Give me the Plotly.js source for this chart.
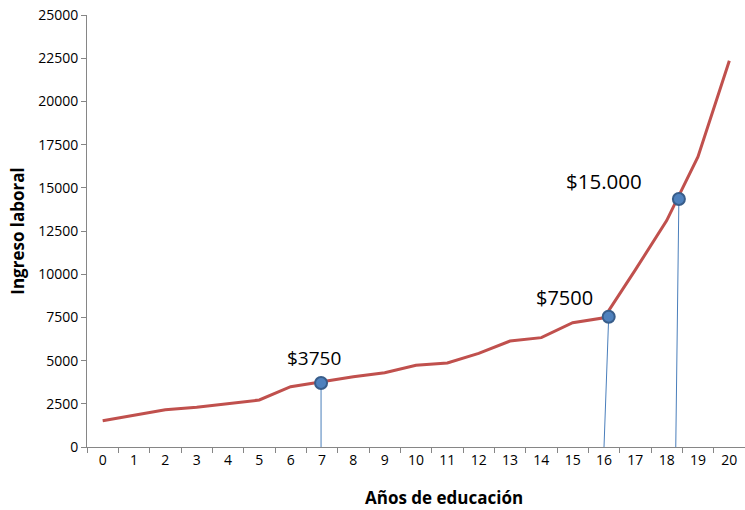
<!DOCTYPE html>
<html>
<head>
<meta charset="utf-8">
<script src="https://cdn.plot.ly/plotly-3.0.1.min.js"></script>
<style>html,body{margin:0;padding:0;background:#fff}#chart{width:745px;height:510px}</style>
</head>
<body>
<div id="chart"></div>
<script>
// Data
const years = [0,1,2,3,4,5,6,7,8,9,10,11,12,13,14,15,16,17,18,19,20];
const yearLabels = ['0','1','2','3','4','5','6','7','8','9','10','11','12','13','14','15','16','17','18','19','20'];
const income = [1520,1850,2150,2300,2530,2720,3490,3780,4070,4300,4730,4860,5420,6130,6330,7190,7480,10250,13100,16800,22350];

// Highlighted points with their drop lines
const highlightX = [6.97, 16.15, 18.39];
const highlightY = [3700, 7540, 14350];
const highlightBaseX = [6.97, 16.0, 18.29];
const highlightLabels = ['$3750', '$7500', '$15.000'];
const yTicks = [0,2500,5000,7500,10000,12500,15000,17500,20000,22500,25000];
const xTitle = 'Años de educación';
const yTitle = 'Ingreso laboral';

const FONT = 'Open Sans, Noto Sans, sans-serif';
const axisGray = '#868686';

const traces = [];
// drop lines
highlightX.forEach((hx, i) => {
  traces.push({
    x: [hx, highlightBaseX[i]], y: [highlightY[i], 0],
    mode: 'lines', line: {color: '#4a7ebb', width: 1},
    hoverinfo: 'skip', showlegend: false
  });
});
// main line
traces.push({
  x: years, y: income, mode: 'lines',
  line: {color: '#c0504d', width: 3},
  showlegend: false
});
// highlight markers
traces.push({
  x: highlightX, y: highlightY, mode: 'markers',
  marker: {color: '#4f81bd', size: 12, line: {color: '#385d8a', width: 2}},
  showlegend: false
});

const labelStyle = [[-7, 25, 19], [-44, 19, 20], [-75, 18, 20.5]];
const annotations = highlightLabels.map((t, i) => ({
  x: highlightX[i], y: highlightY[i], xref: 'x', yref: 'y',
  text: t, showarrow: false,
  xshift: labelStyle[i][0], yshift: labelStyle[i][1],
  font: {family: FONT, size: labelStyle[i][2], color: '#000'}
}));
// x axis title (off-centre in the reference, so drawn as paper text)
annotations.push({
  xref: 'paper', yref: 'paper', x: 0.5426, y: -0.118,
  xanchor: 'center', yanchor: 'middle', showarrow: false, borderpad: 0,
  text: '<b>' + xTitle + '</b>',
  font: {family: FONT, size: 17, color: '#000'}
});

const layout = {
  width: 745, height: 510,
  margin: {l: 87, r: 0, t: 15, b: 63},
  paper_bgcolor: '#fff', plot_bgcolor: '#fff',
  font: {family: FONT, color: '#000'},
  showlegend: false,
  xaxis: {
    range: [-0.5, 20.5], tickvals: years, ticktext: yearLabels,
    ticks: '', showgrid: false, zeroline: false,
    showline: true, linecolor: axisGray, linewidth: 1,
    tickfont: {family: FONT, size: 14, color: '#000'},
    minor: {tick0: 0.5, dtick: 1, ticks: 'outside', ticklen: 5, tickcolor: axisGray, showgrid: false},
    fixedrange: true
  },
  yaxis: {
    range: [0, 25000], tickvals: yTicks, tickformat: 'd',
    ticks: 'outside', ticklen: 5, tickcolor: axisGray,
    showgrid: false, zeroline: false,
    showline: true, linecolor: axisGray, linewidth: 1,
    tickfont: {family: FONT, size: 14, color: '#000'},
    title: {text: yTitle, font: {family: FONT, size: 17, color: '#000', weight: 'bold'}, standoff: 9},
    fixedrange: true
  },
  annotations: annotations
};

Plotly.newPlot('chart', traces, layout, {displayModeBar: false, staticPlot: true});
</script>
</body>
</html>
